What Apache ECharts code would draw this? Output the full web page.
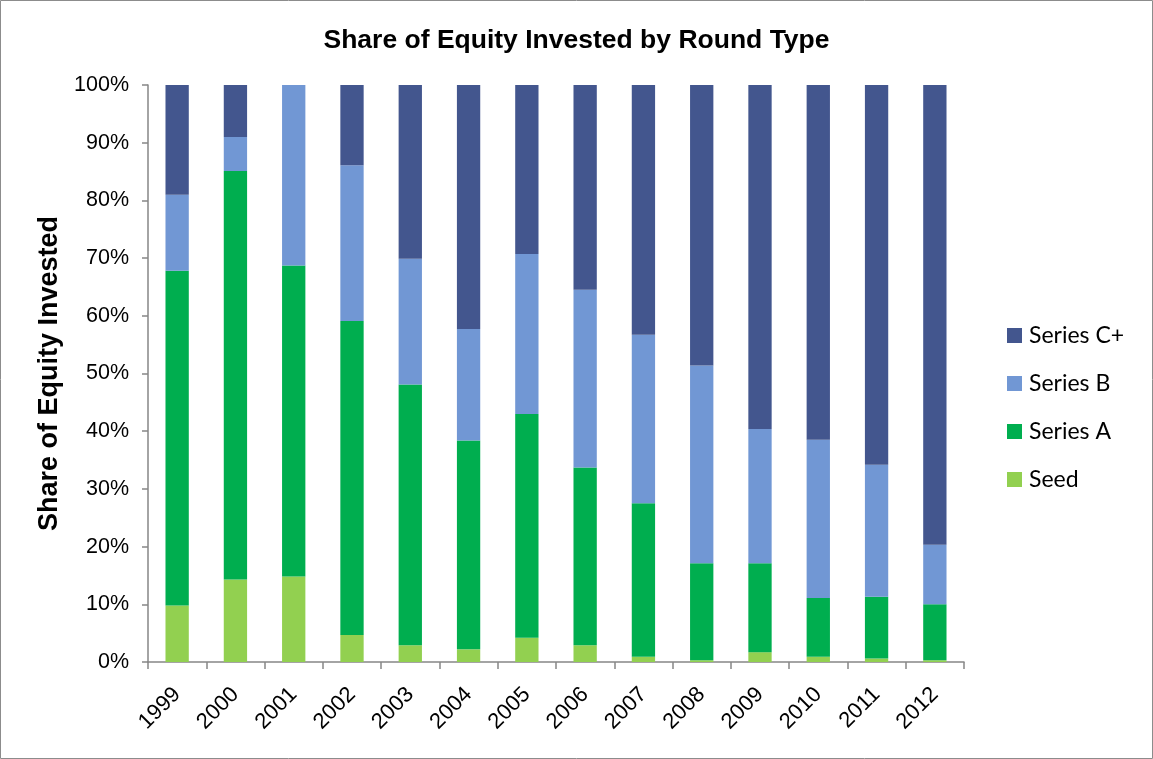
<!DOCTYPE html>
<html>
<head>
<meta charset="utf-8">
<script src="https://cdn.jsdelivr.net/npm/echarts@6/dist/echarts.min.js"></script>
<style>html,body{margin:0;padding:0;background:#fff}#c{width:1153px;height:759px}</style>
</head>
<body>
<div id="c"></div>
<script>
const years = ['1999','2000','2001','2002','2003','2004','2005','2006','2007','2008','2009','2010','2011','2012'];
const seed    = [9.8, 14.3, 14.8, 4.7, 2.9, 2.2, 4.2, 2.9, 0.9, 0.3, 1.7, 0.9, 0.6, 0.3];
const seriesA = [58.0, 70.8, 53.9, 54.4, 45.2, 36.2, 38.8, 30.8, 26.6, 16.8, 15.4, 10.2, 10.7, 9.7];
const seriesB = [13.2, 5.9, 31.3, 27.0, 21.8, 19.3, 27.7, 30.8, 29.2, 34.3, 23.3, 27.4, 22.9, 10.3];
const seriesC = [19.0, 9.0, 0.0, 13.9, 30.1, 42.3, 29.3, 35.5, 43.3, 48.6, 59.6, 61.5, 65.8, 79.7];

const chart = echarts.init(document.getElementById('c'), null, {renderer: 'canvas'});
const mk = (name, data, color) => ({
  name, type: 'bar', stack: 'total', data, barCategoryGap: '60%',
  itemStyle: {color}, emphasis: {disabled: true}
});
chart.setOption({
  animation: false,
  backgroundColor: '#fff',
  graphic: [{type: 'rect', shape: {x: 0.5, y: 0.5, width: 1152, height: 758}, style: {fill: 'none', stroke: '#8c8c8c', lineWidth: 1}, silent: true}],
  title: {
    text: 'Share of Equity Invested by Round Type', left: 'center', top: 22,
    textStyle: {fontFamily: 'Liberation Sans, Arial', fontWeight: 'bold', fontSize: 26.5, color: '#000'}
  },
  grid: {left: 148, right: 189, top: 85, bottom: 97},
  legend: {
    orient: 'vertical', left: 1002, top: 319, itemGap: 25, itemWidth: 15, itemHeight: 15,
    icon: 'rect', data: ['Series C+', 'Series B', 'Series A', 'Seed'],
    textStyle: {fontFamily: 'Lato, Open Sans, sans-serif', fontSize: 23, color: '#000', padding: [0, 0, 0, 2]}
  },
  xAxis: {
    type: 'category', data: years,
    axisLine: {lineStyle: {color: '#868686', width: 1.5}},
    axisTick: {show: true, alignWithLabel: false, length: 7, lineStyle: {color: '#868686', width: 1.5}},
    axisLabel: {rotate: 45, fontFamily: 'Liberation Sans, Arial', fontSize: 22, color: '#000', margin: 29, interval: 0}
  },
  yAxis: {
    type: 'value', min: 0, max: 100, interval: 10,
    name: 'Share of Equity Invested', nameLocation: 'middle', nameGap: 82,
    nameTextStyle: {fontFamily: 'Liberation Sans, Arial', fontWeight: 'bold', fontSize: 27, color: '#000'},
    axisLine: {show: true, lineStyle: {color: '#868686', width: 1.5}},
    axisTick: {show: true, length: 6, inside: false, lineStyle: {color: '#868686', width: 1.5}},
    splitLine: {show: false},
    axisLabel: {formatter: '{value}%', fontFamily: 'Liberation Sans, Arial', fontSize: 21.5, color: '#000', margin: 19}
  },
  series: [
    mk('Seed', seed, '#92D050'),
    mk('Series A', seriesA, '#00AE4F'),
    mk('Series B', seriesB, '#7197D4'),
    mk('Series C+', seriesC, '#43568E')
  ]
});
</script>
</body>
</html>
